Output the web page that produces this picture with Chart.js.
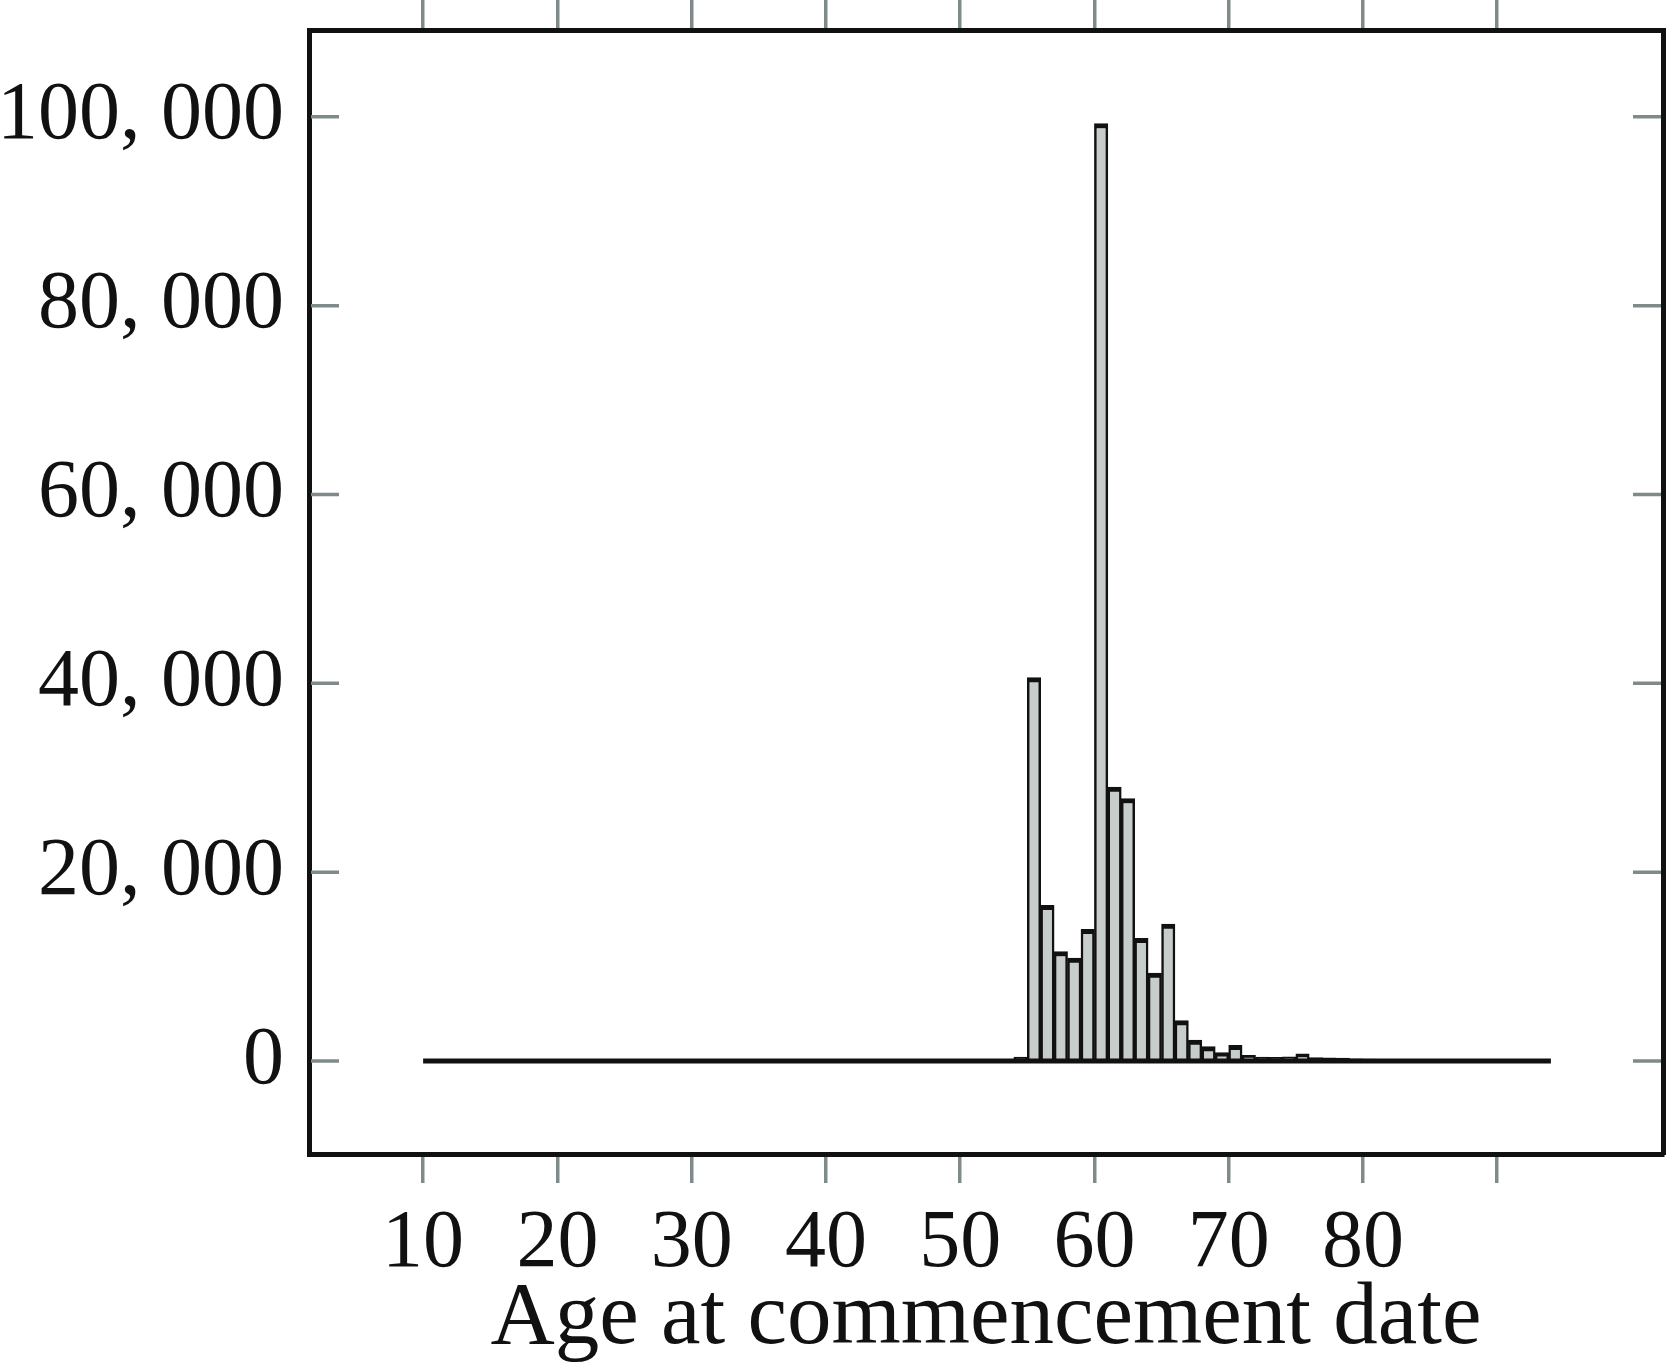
<!DOCTYPE html>
<html>
<head>
<meta charset="utf-8">
<title>Age at commencement date</title>
<script src="https://cdn.jsdelivr.net/npm/chart.js@4.4.1/dist/chart.umd.min.js"></script>
<style>
  html, body { margin: 0; padding: 0; background: #fff; }
  canvas { display: block; }
</style>
</head>
<body>
<canvas id="histChart" width="1666" height="1366"></canvas>
<script>
// ===== Data =====
// one-year age bins, lower edge of each bin
const ageBins = [
  10, 11, 12, 13, 14, 15, 16, 17, 18, 19,
  20, 21, 22, 23, 24, 25, 26, 27, 28, 29,
  30, 31, 32, 33, 34, 35, 36, 37, 38, 39,
  40, 41, 42, 43, 44, 45, 46, 47, 48, 49,
  50, 51, 52, 53, 54, 55, 56, 57, 58, 59,
  60, 61, 62, 63, 64, 65, 66, 67, 68, 69,
  70, 71, 72, 73, 74, 75, 76, 77, 78, 79,
  80, 81, 82, 83, 84, 85, 86, 87, 88, 89,
  90, 91, 92, 93
];
const counts = [
  0, 0, 0, 0, 0, 0, 0, 0, 0, 0,
  0, 0, 0, 0, 0, 0, 0, 0, 0, 0,
  0, 0, 0, 0, 0, 0, 0, 0, 0, 0,
  0, 0, 0, 0, 0, 0, 0, 0, 20, 40,
  90, 110, 140, 190, 420, 40600, 16500, 11600, 10900, 13950,
  99300, 29000, 27800, 13000, 9300, 14500, 4270, 2220, 1520, 880,
  1650, 600, 420, 400, 450, 750, 350, 330, 300, 220,
  200, 150, 130, 120, 100, 50, 40, 30, 25, 20,
  15, 10, 8, 5
];
const histRange = [10, 94];

const xTicks = [10, 20, 30, 40, 50, 60, 70, 80, 90];
const xTickLabels = ['10', '20', '30', '40', '50', '60', '70', '80', ''];
const yTicks = [0, 20000, 40000, 60000, 80000, 100000];
const yTickLabels = ['0', '20, 000', '40, 000', '60, 000', '80, 000', '100, 000'];
const xTitle = 'Age at commencement date';

// ===== Styles =====
const serif = "'Liberation Serif', 'DejaVu Serif', serif";
const ink = '#111111';
const tickGrey = '#7f8b8b';
const barFill = '#c6cdcb';

// y tick marks point into the plot box
const innerTicks = {
  id: 'innerTicks',
  afterDatasetsDraw(chart) {
    const { ctx, chartArea, scales: { y } } = chart;
    ctx.save();
    ctx.strokeStyle = tickGrey;
    ctx.lineWidth = 3.5;
    yTicks.forEach(v => {
      const py = y.getPixelForValue(v);
      ctx.beginPath();
      ctx.moveTo(chartArea.left + 2, py);
      ctx.lineTo(chartArea.left + 30, py);
      ctx.moveTo(chartArea.right - 30, py);
      ctx.lineTo(chartArea.right - 2, py);
      ctx.stroke();
    });
    ctx.restore();
  }
};

const setTicks = (values) => (scale) => {
  scale.ticks = values.map(value => ({ value }));
};

// fixed axis sizes, no extra room for half labels
const fixWidth = (w) => (s) => { s.width = w; s.paddingTop = 0; s.paddingBottom = 0; };
const fixHeight = (h) => (s) => { s.height = h; s.paddingLeft = 0; s.paddingRight = 0; };

new Chart(document.getElementById('histChart'), {
  type: 'bar',
  data: {
    datasets: [
      {
        type: 'line',
        data: histRange.map(x => ({ x, y: 0 })),
        borderColor: ink,
        borderWidth: 5,
        pointRadius: 0,
        order: 0
      },
      {
        data: ageBins.map((a, i) => ({ x: a + 0.5, y: counts[i] })),
        backgroundColor: barFill,
        borderColor: ink,
        borderWidth: { top: 5, left: 2.5, right: 2.5, bottom: 0 },
        borderSkipped: 'start',
        barPercentage: 1,
        categoryPercentage: 1,
        order: 1
      }
    ]
  },
  options: {
    responsive: false,
    animation: false,
    layout: { padding: 0 },
    plugins: {
      legend: { display: false },
      tooltip: { enabled: false }
    },
    scales: {
      x: {
        type: 'linear',
        position: 'bottom',
        min: 1.5,
        max: 102.35,
        offset: false,
        afterBuildTicks: setTicks(xTicks),
        afterFit: fixHeight(212),
        grid: { offset: false, drawOnChartArea: false, tickLength: 29, color: tickGrey, lineWidth: 3.5 },
        border: { display: true, color: ink, width: 5 },
        ticks: {
          autoSkip: false,
          maxRotation: 0,
          padding: 12,
          color: ink,
          font: { family: serif, size: 82 },
          callback: (v, i) => xTickLabels[i]
        },
        title: {
          display: true,
          text: xTitle,
          color: ink,
          font: { family: serif, size: 89, lineHeight: 1 },
          padding: { top: 0, bottom: 2 }
        }
      },
      x2: {
        type: 'linear',
        position: 'top',
        min: 1.5,
        max: 102.35,
        offset: false,
        afterBuildTicks: setTicks(xTicks),
        afterFit: fixHeight(30),
        grid: { offset: false, drawOnChartArea: false, tickLength: 30, color: tickGrey, lineWidth: 3.5 },
        border: { display: true, color: ink, width: 5 },
        ticks: { display: false }
      },
      y: {
        type: 'linear',
        position: 'left',
        min: -9850,
        max: 109200,
        afterBuildTicks: setTicks(yTicks),
        afterFit: fixWidth(309),
        grid: { display: false, drawTicks: false },
        border: { display: true, color: ink, width: 5 },
        ticks: {
          autoSkip: false,
          padding: 25,
          color: ink,
          font: { family: serif, size: 82 },
          callback: (v, i) => yTickLabels[i]
        }
      },
      y2: {
        type: 'linear',
        position: 'right',
        min: -9850,
        max: 109200,
        afterFit: fixWidth(3),
        grid: { display: false, drawTicks: false },
        border: { display: true, color: ink, width: 5 },
        ticks: { display: false }
      }
    }
  },
  plugins: [innerTicks]
});
</script>
</body>
</html>
